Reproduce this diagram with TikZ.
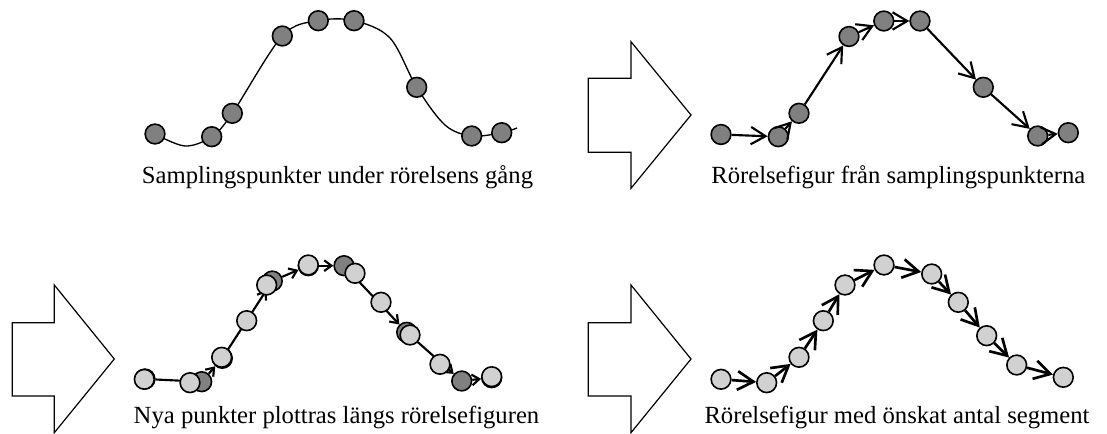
\documentclass[tikz,border=0pt]{standalone}
\usepackage{fontspec}
\setmainfont{Liberation Serif}
\usetikzlibrary{arrows.meta}
\definecolor{darkpt}{gray}{0.5}
\definecolor{lightpt}{gray}{0.82}
\tikzset{
 dpt/.style={circle, draw, fill=darkpt, minimum size=14.8pt, inner sep=0pt, line width=1.2pt},
 lpt/.style={circle, draw, fill=lightpt, minimum size=14.8pt, inner sep=0pt, line width=1.2pt},
 bigarrow/.style={draw, line width=0.9pt, line join=miter},
 segA/.style={line width=1.6pt, -{Straight Barb[length=11pt,width=13pt]}},
 segD/.style={line width=2pt, -{Straight Barb[length=12pt,width=14pt]}},
 segC/.style={line width=1.6pt, -{Straight Barb[length=5.5pt,width=8pt]}},
 lbl/.style={font=\fontsize{18.5pt}{22pt}\selectfont, anchor=base, inner sep=0pt},
 curveline/.style={line width=1pt}
}
\begin{document}
\begin{tikzpicture}[x=0.75pt,y=-0.75pt]
\useasboundingbox (0,0) rectangle (1107,434);
% ---------- panel 1 ----------
\draw[curveline] plot[smooth, tension=0.55] coordinates {(155,134) (185,146) (211.7,136.7) (232.3,113.3) (282.3,36) (318.3,20.7) (354,20.7) (390,38) (416.7,87.3) (445,125) (471.7,136) (501.7,132.7) (517,128)};
\node[dpt] (p1) at (155,134) {};
\node[dpt] (p2) at (211.7,136.7) {};
\node[dpt] (p3) at (232.3,113.3) {};
\node[dpt] (p4) at (282.3,36) {};
\node[dpt] (p5) at (318.3,20.7) {};
\node[dpt] (p6) at (354,20.7) {};
\node[dpt] (p7) at (416.7,87.3) {};
\node[dpt] (p8) at (471.7,136) {};
\node[dpt] (p9) at (501.7,132.7) {};
\node[lbl] (t1) at (337.5,184) {Samplingspunkter under rörelsens gång};
% ---------- panel 2 ----------
\draw[bigarrow] (588.3,78.3) -- (631,78.3) -- (631,41.7) -- (691,115) -- (631,188.3) -- (631,152.3) -- (588.3,152.3) -- cycle;
\node[dpt] (q1) at (721,134.5) {};
\node[dpt] (q2) at (778.3,136.7) {};
\node[dpt] (q3) at (799,113.3) {};
\node[dpt] (q4) at (849,36.5) {};
\node[dpt] (q5) at (883.8,21) {};
\node[dpt] (q6) at (920,21) {};
\node[dpt] (q7) at (983.3,87.3) {};
\node[dpt] (q8) at (1037.7,136) {};
\node[dpt] (q9) at (1068.3,132.7) {};
\foreach \a/\b in {q1/q2,q2/q3,q3/q4,q4/q5,q5/q6,q6/q7,q7/q8,q8/q9}
  \draw[segA] (\a) -- (\b);
\node[lbl] (t2) at (898.3,184) {Rörelsefigur från samplingspunkterna};
% ---------- panel 3 ----------
\draw[bigarrow] (12.3,322.7) -- (54.3,322.7) -- (54.3,285) -- (114.3,359) -- (54.3,432.7) -- (54.3,396) -- (12.3,396) -- cycle;
\node[dpt] (o1) at (145,379) {};
\node[dpt] (o2) at (201.7,381.7) {};
\node[dpt] (o3) at (222.3,358.3) {};
\node[dpt] (o4) at (272.3,281) {};
\node[dpt] (o5) at (308.3,265.7) {};
\node[dpt] (o6) at (344,265.7) {};
\node[dpt] (o7) at (406.7,332.3) {};
\node[dpt] (o8) at (461.7,381) {};
\node[dpt] (o9) at (491.7,377.7) {};
\foreach \a/\b in {o1/o2,o2/o3,o3/o4,o4/o5,o5/o6,o6/o7,o7/o8,o8/o9}
  \draw[segC] (\a) -- (\b);
\node[lpt] (l1) at (144.3,379.3) {};
\node[lpt] (l2) at (190,382.7) {};
\node[lpt] (l3) at (221.7,357.3) {};
\node[lpt] (l4) at (246.7,320.7) {};
\node[lpt] (l5) at (266.7,285) {};
\node[lpt] (l6) at (308.3,265) {};
\node[lpt] (l7) at (355,273.3) {};
\node[lpt] (l8) at (381,302.3) {};
\node[lpt] (l9) at (410,335) {};
\node[lpt] (l10) at (440,364.3) {};
\node[lpt] (l11) at (491.7,376.7) {};
\node[lbl] (t3) at (336.5,424) {Nya punkter plottras längs rörelsefiguren};
% ---------- panel 4 ----------
\draw[bigarrow] (588.3,322.7) -- (631,322.7) -- (631,285) -- (691,359) -- (631,432.7) -- (631,396) -- (588.3,396) -- cycle;
\node[lpt] (s1) at (721,379.3) {};
\node[lpt] (s2) at (766.7,382.7) {};
\node[lpt] (s3) at (799,357.3) {};
\node[lpt] (s4) at (823.3,320.7) {};
\node[lpt] (s5) at (845,285) {};
\node[lpt] (s6) at (884,265) {};
\node[lpt] (s7) at (931.7,274) {};
\node[lpt] (s8) at (958.3,302.3) {};
\node[lpt] (s9) at (986.7,335.7) {};
\node[lpt] (s10) at (1016.7,365) {};
\node[lpt] (s11) at (1063.3,377.3) {};
\foreach \a/\b in {s1/s2,s2/s3,s3/s4,s4/s5,s5/s6,s6/s7,s7/s8,s8/s9,s9/s10,s10/s11}
  \draw[segD] (\a) -- (\b);
\node[lbl] (t4) at (897,424) {Rörelsefigur med önskat antal segment};
\end{tikzpicture}
\end{document}
